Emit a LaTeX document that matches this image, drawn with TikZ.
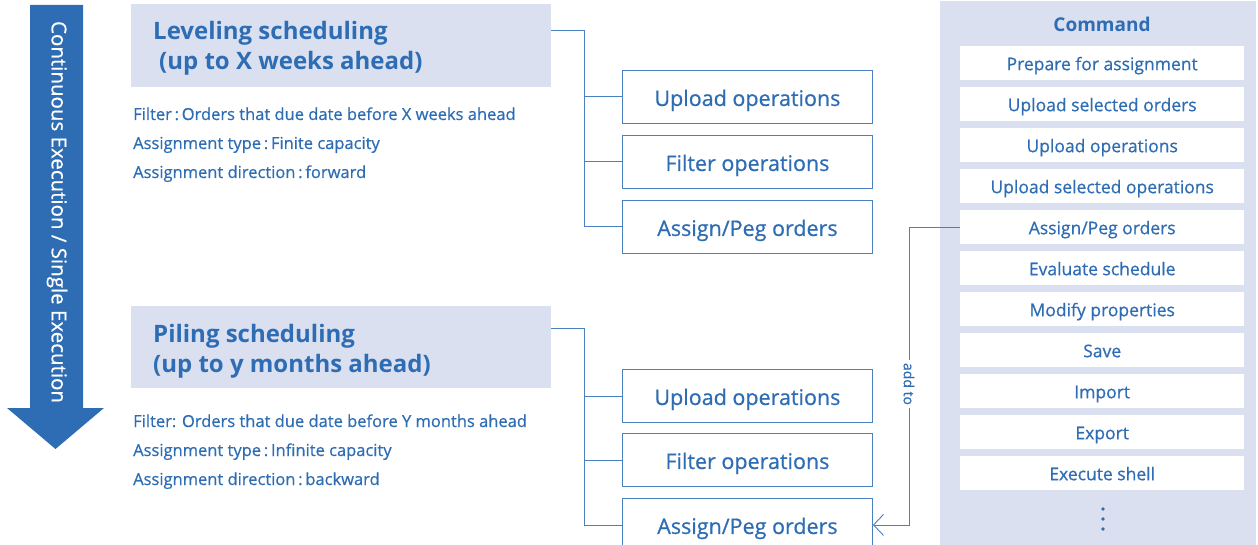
\documentclass[tikz,border=0pt]{standalone}
\usepackage{fontspec}
\setmainfont{Open Sans}
\newfontfamily\medfont{Open Sans}[FakeBold=0.6]
\usetikzlibrary{arrows.meta,calc}
\definecolor{mblue}{HTML}{2E6DB4}
\definecolor{lblue}{HTML}{4A80C2}
\definecolor{pale}{HTML}{DBE0F0}
\tikzset{
  hdrbox/.style={fill=pale, draw=none, minimum width=420pt, inner sep=0pt, anchor=north west},
  hdrtext/.style={anchor=base west, inner sep=0pt, text=mblue, font=\fontsize{24}{28}\selectfont\bfseries},
  bodytext/.style={anchor=base west, inner sep=0pt, text=mblue, font=\medfont\fontsize{16.5}{20}\selectfont},
  opbox/.style={draw=lblue, line width=0.9pt, fill=white, minimum width=250pt, minimum height=53pt,
    inner sep=0pt, anchor=north west, text=mblue, text height=18pt, text depth=0pt,
    font=\medfont\fontsize{21.5}{24}\selectfont},
  cmdbox/.style={fill=white, draw=none, minimum width=284pt, minimum height=34pt, inner sep=0pt,
    anchor=north west, text=mblue, text height=14pt, text depth=0pt,
    font=\medfont\fontsize{17.5}{20}\selectfont},
  conn/.style={draw=lblue, line width=0.9pt},
}
\begin{document}
\begin{tikzpicture}[x=1pt,y=-1pt]
\useasboundingbox (0,0) rectangle (1258,545);

% execution arrow
\fill[mblue] (30,5) -- (83,5) -- (83,408) -- (104,408) -- (55.5,449) -- (7,408) -- (30,408) -- cycle;
\node[rotate=-90, text=white, inner sep=0pt, font=\medfont\fontsize{20.5}{24}\selectfont] (flow) at (57,212)
  {Continuous Execution / Single Execution};

% leveling scheduling
\node[hdrbox, minimum height=83pt] (h1) at (131,4) {};
\node[hdrtext] (h1a) at (153,40) {Leveling scheduling};
\node[hdrtext] (h1b) at (153,70) {\hspace{6pt}(up to X weeks ahead)};
\node[bodytext] (f1) at (133,120) {Filter\,:\,Orders that due date before X weeks ahead};
\node[bodytext] (t1) at (133,149) {Assignment type\,:\,Finite capacity};
\node[bodytext] (d1) at (133,178) {Assignment direction\,:\,forward};

\node[opbox] (b1a) at (622,70) {Upload operations};
\node[opbox] (b1b) at (622,135) {Filter operations};
\node[opbox] (b1c) at (622,200) {Assign/Peg orders};

\coordinate (j1) at (584,30);
\draw[conn] (h1.east |- j1) -- (j1) |- (b1c);
\draw[conn] (j1 |- b1a) -- (b1a);
\draw[conn] (j1 |- b1b) -- (b1b);

% piling scheduling
\node[hdrbox, minimum height=82pt] (h2) at (131,306) {};
\node[hdrtext] (h2a) at (153,342) {Piling scheduling};
\node[hdrtext] (h2b) at (153,372) {(up to y months ahead)};
\node[bodytext] (f2) at (133,427) {Filter: Orders that due date before Y months ahead};
\node[bodytext] (t2) at (133,456) {Assignment type\,:\,Infinite capacity};
\node[bodytext] (d2) at (133,485) {Assignment direction\,:\,backward};

\node[opbox] (b2a) at (622,369) {Upload operations};
\node[opbox] (b2b) at (622,433) {Filter operations};
\node[opbox] (b2c) at (622,498) {Assign/Peg orders};

\coordinate (j2) at (584,328);
\draw[conn] (h2.east |- j2) -- (j2) |- (b2c);
\draw[conn] (j2 |- b2a) -- (b2a);
\draw[conn] (j2 |- b2b) -- (b2b);

% command panel
\node[fill=pale, draw=none, minimum width=316pt, minimum height=545pt, inner sep=0pt, anchor=north west]
  (panel) at (940,1) {};
\node[text=mblue, inner sep=0pt, font=\fontsize{19}{22}\selectfont\bfseries] (cmdtitle) at (1102,24) {Command};
\foreach \i/\t in {0/{Prepare for assignment}, 1/{Upload selected orders}, 2/{Upload operations},
  3/{Upload selected operations}, 4/{Assign/Peg orders}, 5/{Evaluate schedule}, 6/{Modify properties},
  7/{Save}, 8/{Import}, 9/{Export}, 10/{Execute shell}}
  \node[cmdbox] (c\i) at (960,{46+41*\i}) {\t};
\foreach \yy in {509,519,529}
  \fill[mblue] (1103,\yy) circle (1.9pt);

% add-to link
\coordinate (k) at (909,0);
\draw[conn, -{Straight Barb[length=10pt, width=21pt, line width=0.9pt]}] (c4.west) -- (k |- c4) |- (b2c.east);
\node[rotate=-90, fill=white, text=mblue, inner xsep=3pt, inner ysep=0pt, font=\medfont\fontsize{14}{16}\selectfont]
  (addto) at (909,384) {add to};
\end{tikzpicture}
\end{document}
